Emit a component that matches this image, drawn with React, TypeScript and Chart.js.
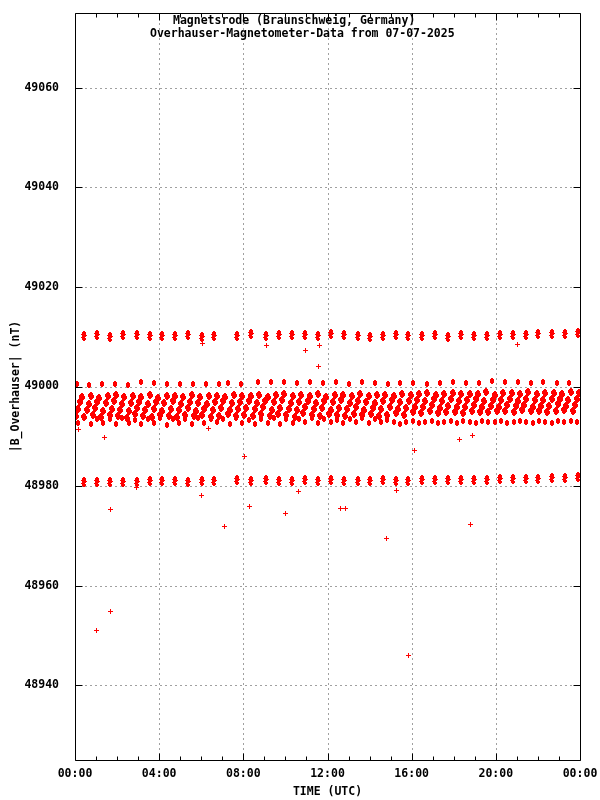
import React, { useEffect, useRef } from "react";
import { Chart, registerables } from "chart.js";
Chart.register(...registerables);

const titleLine1 = "Magnetsrode (Braunschweig, Germany)";
const titleLine2 = "Overhauser-Magnetometer-Data from 07-07-2025";
const xAxisTitle = "TIME (UTC)";
const yAxisTitle = "|B_Overhauser| (nT)";

const yTickValues = [48940, 48960, 48980, 49000, 49020, 49040, 49060];
const xTickHours = [0, 4, 8, 12, 16, 20, 24];
const xTickLabels = ["00:00", "04:00", "08:00", "12:00", "16:00", "20:00", "00:00"];
const xMinorTickHours = [1, 2, 3, 5, 6, 7, 9, 10, 11, 13, 14, 15, 17, 18, 19, 21, 22, 23];

// measurement cycles of the upper (~49010 nT) and lower (~48981 nT) levels
const cycleHours = [
  0.43, 1.05, 1.66, 2.3, 2.93, 3.56, 4.15, 4.75, 5.39, 6.02,
  6.62, 7.68, 8.35, 9.08, 9.71, 10.33, 10.93, 11.56, 12.17, 12.8,
  13.44, 14.04, 14.65, 15.26, 15.84, 16.48, 17.11, 17.71, 18.35, 18.98,
  19.59, 20.2, 20.83, 21.44, 22.02, 22.66, 23.29, 23.89,
];
const band10Values = [
  49010.2, 49010.4, 49010.0, 49010.3, 49010.3, 49010.2, 49010.2, 49010.1, 49010.4, 49010.0,
  49010.1, 49010.2, 49010.5, 49010.1, 49010.4, 49010.4, 49010.3, 49010.2, 49010.5, 49010.3,
  49010.2, 49010.0, 49010.1, 49010.3, 49010.2, 49010.2, 49010.4, 49010.0, 49010.3, 49010.1,
  49010.2, 49010.3, 49010.4, 49010.4, 49010.5, 49010.5, 49010.6, 49010.7,
];
const band81Values = [
  48980.9, 48980.8, 48980.9, 48980.8, 48980.9, 48981.0, 48981.0, 48981.1, 48980.9, 48981.0,
  48981.1, 48981.2, 48981.1, 48981.2, 48981.1, 48981.0, 48981.2, 48981.1, 48981.2, 48981.1,
  48981.0, 48981.1, 48981.2, 48981.0, 48981.1, 48981.2, 48981.2, 48981.3, 48981.3, 48981.2,
  48981.3, 48981.4, 48981.4, 48981.5, 48981.5, 48981.6, 48981.7, 48981.8,
];

// ~49000.6 nT level
const band00Hours = [
  0.08, 0.68, 1.3, 1.92, 2.53, 3.15, 3.77, 4.39, 5.0, 5.62,
  6.24, 6.86, 7.26, 7.89, 8.71, 9.31, 9.93, 10.54, 11.17, 11.77,
  12.4, 13.01, 13.63, 14.26, 14.86, 15.46, 16.08, 16.71, 17.34, 17.95,
  18.58, 19.2, 19.8, 20.43, 21.04, 21.66, 22.26, 22.9, 23.49,
];
const band00Values = [
  49000.5, 49000.4, 49000.5, 49000.5, 49000.4, 49000.9, 49000.7, 49000.5, 49000.6, 49000.5,
  49000.5, 49000.6, 49000.8, 49000.5, 49001.0, 49000.9, 49001.0, 49000.8, 49000.9, 49000.8,
  49000.9, 49000.6, 49000.9, 49000.7, 49000.6, 49000.8, 49000.7, 49000.6, 49000.7, 49000.9,
  49000.7, 49000.7, 49001.1, 49000.9, 49001.0, 49000.8, 49000.9, 49000.7, 49000.8,
];

// dense main band, one value every 6 minutes starting at 00:03
const ribbonStartHour = 0.05;
const ribbonStepHours = 0.1;
const ribbonValues = [
  48994.1, 48995.4, 48996.8, 48997.9, 48993.8, 48995.2, 48996.5, 48998.1,
  48994.3, 48995.7, 48996.9, 48997.7, 48993.9, 48995.0, 48996.6, 48998.0,
  48994.2, 48995.5, 48997.1, 48998.2, 48994.0, 48995.3, 48996.4, 48997.8,
  48993.7, 48995.1, 48996.7, 48998.0, 48994.4, 48995.6, 48996.9, 48997.9,
  48994.0, 48995.2, 48996.5, 48998.3, 48993.9, 48995.4, 48996.8, 48997.7,
  48994.2, 48995.0, 48996.6, 48998.1, 48994.1, 48995.5, 48997.0, 48998.0,
  48993.8, 48995.3, 48996.4, 48997.9, 48994.3, 48995.6, 48996.9, 48998.2,
  48994.0, 48995.1, 48996.7, 48997.8, 48994.2, 48995.4, 48996.5, 48998.0,
  48993.9, 48995.2, 48996.8, 48998.1, 48994.1, 48995.7, 48997.0, 48997.9,
  48994.4, 48995.3, 48996.6, 48998.2, 48994.0, 48995.5, 48996.9, 48998.0,
  48994.3, 48995.6, 48997.0, 48998.1, 48994.0, 48995.4, 48996.7, 48998.3,
  48994.5, 48995.9, 48997.1, 48997.9, 48994.1, 48995.2, 48996.8, 48998.2,
  48994.4, 48995.7, 48997.3, 48998.4, 48994.2, 48995.5, 48996.6, 48998.0,
  48993.9, 48995.3, 48996.9, 48998.2, 48994.6, 48995.8, 48997.1, 48998.1,
  48994.2, 48995.4, 48996.7, 48998.5, 48994.1, 48995.6, 48997.0, 48997.9,
  48994.4, 48995.2, 48996.8, 48998.3, 48994.3, 48995.7, 48997.2, 48998.2,
  48994.0, 48995.5, 48996.6, 48998.1, 48994.5, 48995.8, 48997.1, 48998.4,
  48994.2, 48995.3, 48996.9, 48998.0, 48994.4, 48995.6, 48996.7, 48998.2,
  48994.1, 48995.4, 48997.0, 48998.3, 48994.3, 48995.9, 48997.2, 48998.1,
  48994.6, 48995.5, 48996.8, 48998.4, 48994.2, 48995.7, 48997.1, 48998.2,
  48994.8, 48995.9, 48997.2, 48998.4, 48994.6, 48995.8, 48997.0, 48998.6,
  48995.0, 48996.2, 48997.4, 48998.3, 48994.7, 48995.7, 48997.1, 48998.5,
  48994.9, 48996.0, 48997.5, 48998.7, 48994.8, 48995.9, 48997.0, 48998.4,
  48994.6, 48995.8, 48997.3, 48998.5, 48995.1, 48996.2, 48997.4, 48998.5,
  48994.9, 48995.9, 48997.1, 48998.8, 48994.8, 48996.1, 48997.3, 48998.3,
  48995.1, 48995.8, 48997.2, 48998.6, 48995.0, 48996.2, 48997.5, 48998.6,
  48994.8, 48996.0, 48997.0, 48998.5, 48995.2, 48996.3, 48997.4, 48998.8,
  48995.0, 48995.9, 48997.3, 48998.4, 48995.1, 48996.1, 48997.2, 48998.6,
  48994.9, 48996.0, 48997.4, 48998.7, 48995.0, 48996.4, 48997.5, 48998.5,
  48995.3, 48996.1, 48997.2, 48998.8, 48995.0, 48996.2, 48997.4, 48998.7,
];

// lower row of the main band (~48993 nT), one value every 18 minutes starting at 00:09
const lowRowStartHour = 0.15;
const lowRowStepHours = 0.3;
const lowRowValues = [
  48992.6, 48993.6, 48992.5, 48993.4, 48992.7, 48993.5, 48992.4, 48993.6, 48992.6, 48993.3,
  48992.5, 48993.5, 48992.7, 48993.6, 48992.3, 48993.4, 48992.6, 48993.5, 48992.5, 48993.7,
  48992.6, 48993.4, 48992.8, 48993.5, 48992.5, 48993.6, 48992.7, 48993.3, 48992.4, 48993.5,
  48992.7, 48993.6, 48992.5, 48993.4, 48992.6, 48993.5, 48992.8, 48993.6, 48992.6, 48993.4,
  48992.8, 48993.3, 48992.6, 48993.5, 48992.9, 48993.6, 48992.7, 48993.4, 48992.8, 48993.2,
  48992.9, 48992.5, 48992.8, 48993.1, 48992.6, 48992.9, 48993.0, 48992.7, 48992.8, 48993.1,
  48992.7, 48993.0, 48992.9, 48992.6, 48993.1, 48992.8, 48992.9, 48993.0, 48992.7, 48992.9,
  48993.0, 48992.8, 48992.6, 48993.1, 48992.9, 48992.7, 48993.0, 48992.8, 48993.1, 48992.9,
];

// isolated readings
const outlierHours = [
  1.0, 1.68, 1.68, 1.39, 0.16, 6.0, 7.1, 8.05, 8.27, 9.99,
  10.61, 2.91, 16.12, 18.26, 12.61, 12.85, 15.27, 18.79, 14.79, 15.83,
  9.09, 10.94, 11.6, 11.56, 6.05, 21.01, 6.33, 18.88,
];
const outlierValues = [
  48951.0, 48954.8, 48975.3, 48989.7, 48991.4, 48978.1, 48971.8, 48985.9, 48975.9, 48974.5,
  48978.9, 48979.7, 48987.1, 48989.4, 48975.5, 48975.5, 48979.1, 48972.3, 48969.4, 48946.0,
  49008.2, 49007.2, 49008.2, 49004.0, 49008.6, 49008.4, 48991.5, 48990.2,
];

const RED = "#ff0000";
const FONT_FAMILY = '"DejaVu Sans Mono", "Liberation Mono", monospace';

function makeSprite(rows: string[], color: string): HTMLCanvasElement {
  const c = document.createElement("canvas");
  c.width = rows[0].length;
  c.height = rows.length;
  const g = c.getContext("2d")!;
  g.fillStyle = color;
  rows.forEach((r, yy) => {
    for (let xx = 0; xx < r.length; xx++) if (r[xx] === "#") g.fillRect(xx, yy, 1, 1);
  });
  return c;
}

const pts = (xs: number[], ys: number[]) => xs.map((x, i) => ({ x, y: ys[i] }));

export default function App() {
  const ref = useRef<HTMLCanvasElement | null>(null);

  useEffect(() => {
    document.body.style.margin = "0";
    const canvas = ref.current;
    if (!canvas) return;

    const clusterSprite = makeSprite(
      ["..##..", ".####.", ".####.", "#####.", ".#####", ".####.", "####..", ".####.", ".####.", "..##.."],
      RED
    );
    const smallSprite = makeSprite([".##.", "####", "####", "####", "####", ".##."], RED);
    const ribbonSprite = makeSprite(
      ["..##..", ".####.", "#####.", "######", "######", ".#####", ".####.", "..##.."],
      RED
    );
    const lowSprite = makeSprite([".##.", "####", "####", "####", "####", ".##."], RED);
    const crossSprite = makeSprite(["..#..", "..#..", "#####", "..#..", "..#.."], RED);

    const ribbonHours = ribbonValues.map((_, i) => ribbonStartHour + i * ribbonStepHours);
    const lowHours = lowRowValues.map((_, i) => lowRowStartHour + i * lowRowStepHours);

    const ds = (data: any[], sprite: HTMLCanvasElement) => ({
      data,
      showLine: false,
      pointStyle: sprite,
      pointRadius: 3,
      pointHoverRadius: 3,
      borderWidth: 0,
      backgroundColor: RED,
      borderColor: RED,
    });

    const decor = {
      id: "decor",
      beforeDatasetsDraw(chart: any) {
        const { ctx, chartArea: a, scales } = chart;
        const x = scales.x;
        const y = scales.y;
        ctx.save();
        ctx.strokeStyle = "#a0a0a0";
        ctx.lineWidth = 1;
        ctx.setLineDash([2, 3]);
        ctx.beginPath();
        for (const v of yTickValues) {
          const py = Math.round(y.getPixelForValue(v)) + 0.5;
          ctx.moveTo(a.left, py);
          ctx.lineTo(a.right, py);
        }
        for (const h of xTickHours) {
          if (h === xTickHours[0] || h === xTickHours[xTickHours.length - 1]) continue;
          const px = Math.round(x.getPixelForValue(h)) + 0.5;
          ctx.moveTo(px, a.top);
          ctx.lineTo(px, a.bottom);
        }
        ctx.stroke();
        ctx.restore();
        ctx.imageSmoothingEnabled = false;
      },
      afterDatasetsDraw(chart: any) {
        const { ctx, chartArea: a, scales } = chart;
        const x = scales.x;
        const y = scales.y;
        ctx.save();
        ctx.strokeStyle = "#000";
        ctx.lineWidth = 1;
        ctx.setLineDash([]);
        ctx.beginPath();
        const L = Math.round(a.left) + 0.5;
        const R = Math.round(a.right) + 0.5;
        const T = Math.round(a.top) + 0.5;
        const B = Math.round(a.bottom) + 0.5;
        ctx.rect(L, T, R - L, B - T);
        for (const v of yTickValues) {
          const py = Math.round(y.getPixelForValue(v)) + 0.5;
          ctx.moveTo(L, py);
          ctx.lineTo(L + 7, py);
          ctx.moveTo(R, py);
          ctx.lineTo(R - 7, py);
        }
        for (const h of xTickHours) {
          const px = Math.round(x.getPixelForValue(h)) + 0.5;
          ctx.moveTo(px, B);
          ctx.lineTo(px, B - 7);
          ctx.moveTo(px, T);
          ctx.lineTo(px, T + 7);
        }
        for (const h of xMinorTickHours) {
          const px = Math.round(x.getPixelForValue(h)) + 0.5;
          ctx.moveTo(px, B);
          ctx.lineTo(px, B - 4);
          ctx.moveTo(px, T);
          ctx.lineTo(px, T + 4);
        }
        ctx.stroke();
        ctx.restore();
      },
      afterDraw(chart: any) {
        const { ctx, chartArea: a } = chart;
        ctx.save();
        ctx.fillStyle = "#000";
        ctx.font = `bold 11.5px ${FONT_FAMILY}`;
        ctx.textBaseline = "middle";
        ctx.textAlign = "left";
        ctx.fillText(titleLine1, 173, 21);
        ctx.fillText(titleLine2, 150, 34);
        ctx.textAlign = "center";
        ctx.fillText(xAxisTitle, (a.left + a.right) / 2, 792);
        ctx.translate(16, (a.top + a.bottom) / 2);
        ctx.rotate(-Math.PI / 2);
        ctx.fillText(yAxisTitle, 0, 0);
        ctx.restore();
      },
    };

    const chart = new Chart(canvas, {
      type: "scatter",
      data: {
        datasets: [
          ds(pts(ribbonHours, ribbonValues), ribbonSprite),
          ds(pts(lowHours, lowRowValues), lowSprite),
          ds(pts(band00Hours, band00Values), smallSprite),
          ds(pts(cycleHours, band10Values), clusterSprite),
          ds(pts(cycleHours, band81Values), clusterSprite),
          ds(pts(outlierHours, outlierValues), crossSprite),
        ],
      },
      options: {
        animation: false,
        responsive: false,
        events: [],
        layout: { padding: { left: 0, right: 20, top: 13, bottom: 0 } },
        plugins: { legend: { display: false }, tooltip: { enabled: false }, title: { display: false } },
        scales: {
          x: {
            type: "linear",
            min: 0,
            max: 24,
            grid: { display: false },
            border: { display: false },
            afterFit: (s: any) => {
              s.height = 40;
              s.paddingLeft = 0;
              s.paddingRight = 0;
            },
            afterBuildTicks: (s: any) => {
              s.ticks = xTickHours.map((v) => ({ value: v }));
            },
            ticks: {
              autoSkip: false,
              maxRotation: 0,
              padding: -1,
              color: "#000",
              font: { family: FONT_FAMILY, size: 11.5, weight: "bold" },
              callback: (v: any) => xTickLabels[xTickHours.indexOf(Number(v))] ?? "",
            },
          },
          y: {
            type: "linear",
            min: 48925,
            max: 49075,
            grid: { display: false },
            border: { display: false },
            afterFit: (s: any) => {
              s.width = 75;
              s.paddingTop = 0;
              s.paddingBottom = 0;
            },
            afterBuildTicks: (s: any) => {
              s.ticks = yTickValues.map((v) => ({ value: v }));
            },
            ticks: {
              autoSkip: false,
              padding: 8,
              color: "#000",
              font: { family: FONT_FAMILY, size: 11.5, weight: "bold" },
              callback: (v: any) => String(v),
            },
          },
        },
      },
      plugins: [decor],
    } as any);

    return () => chart.destroy();
  }, []);

  return (
    <div style={{ width: 600, height: 800, background: "#fff" }}>
      <canvas ref={ref} width={600} height={800} style={{ display: "block" }} />
    </div>
  );
}
